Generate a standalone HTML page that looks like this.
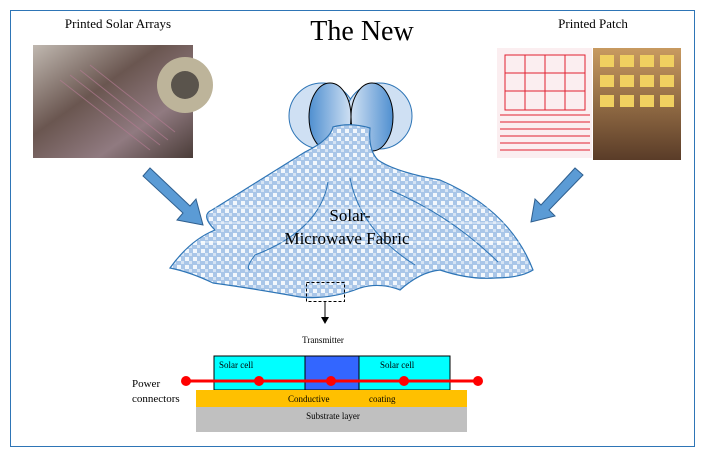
<!DOCTYPE html>
<html><head><meta charset="utf-8"><style>
body{margin:0;background:#fff;}
svg{display:block;}
text{font-family:"Liberation Serif",serif;fill:#000;}
</style></head><body>
<svg width="705" height="458" viewBox="0 0 705 458" xmlns="http://www.w3.org/2000/svg">
<defs>
<pattern id="chk" width="8" height="8" patternUnits="userSpaceOnUse">
<rect width="8" height="8" fill="#a9c6e8"/>
<rect x="1" y="1" width="4" height="4" fill="#f2f7fc"/>
<rect x="5" y="5" width="3" height="3" fill="#d6e4f4"/>
</pattern>
<linearGradient id="bl" x1="0" x2="1"><stop offset="0" stop-color="#4f8fd0"/><stop offset="1" stop-color="#cfe0f3"/></linearGradient>
<linearGradient id="br" x1="1" x2="0"><stop offset="0" stop-color="#4f8fd0"/><stop offset="1" stop-color="#cfe0f3"/></linearGradient>
<linearGradient id="ph1" x1="0" y1="0" x2="1" y2="1"><stop offset="0" stop-color="#c0b8b0"/><stop offset="0.4" stop-color="#6a5650"/><stop offset="0.7" stop-color="#907a80"/><stop offset="1" stop-color="#4a3c38"/></linearGradient>
<linearGradient id="ph2" x1="0" y1="0" x2="0" y2="1"><stop offset="0" stop-color="#c89a60"/><stop offset="1" stop-color="#5a3c28"/></linearGradient>
</defs>
<rect x="10.5" y="10.5" width="684" height="436" fill="#fff" stroke="#2e75b6" stroke-width="1"/>
<text x="118" y="28" font-size="13" text-anchor="middle">Printed Solar Arrays</text>
<text x="362" y="40" font-size="28" text-anchor="middle">The New</text>
<text x="593" y="28" font-size="13" text-anchor="middle">Printed Patch</text>
<rect x="33" y="45" width="160" height="113" fill="url(#ph1)"/>
<circle cx="185" cy="85" r="28" fill="#bdb49a"/><circle cx="185" cy="85" r="14" fill="#5a544c"/>
<g stroke="#b07a90" stroke-width="1" opacity="0.7">
<line x1="60" y1="80" x2="150" y2="150"/><line x1="70" y1="75" x2="160" y2="145"/><line x1="80" y1="70" x2="168" y2="140"/><line x1="90" y1="65" x2="175" y2="132"/></g>
<rect x="497" y="48" width="95" height="110" fill="#fbeef0"/>
<g stroke="#e02030" stroke-width="1" fill="none">
<rect x="505" y="55" width="80" height="55"/><line x1="525" y1="55" x2="525" y2="110"/><line x1="545" y1="55" x2="545" y2="110"/><line x1="565" y1="55" x2="565" y2="110"/>
<line x1="505" y1="73" x2="585" y2="73"/><line x1="505" y1="91" x2="585" y2="91"/>
<path d="M500 115 H590 M500 122 H590 M500 129 H590 M500 136 H590 M500 143 H590 M500 150 H590"/></g>
<rect x="593" y="48" width="88" height="112" fill="url(#ph2)"/>
<g fill="#f0d060"><rect x="600" y="55" width="14" height="12"/><rect x="620" y="55" width="14" height="12"/><rect x="640" y="55" width="14" height="12"/><rect x="660" y="55" width="14" height="12"/>
<rect x="600" y="75" width="14" height="12"/><rect x="620" y="75" width="14" height="12"/><rect x="640" y="75" width="14" height="12"/><rect x="660" y="75" width="14" height="12"/>
<rect x="600" y="95" width="14" height="12"/><rect x="620" y="95" width="14" height="12"/><rect x="640" y="95" width="14" height="12"/><rect x="660" y="95" width="14" height="12"/></g>
<path d="M150 168 L190 206 L196 199 L203 225 L177 220 L183 213 L143 176 Z" fill="#5b9bd5" stroke="#2f5f8f" stroke-width="1"/>
<path d="M575 168 L541 205 L535 199 L531 222 L555 216 L549 210 L583 175 Z" fill="#5b9bd5" stroke="#2f5f8f" stroke-width="1"/>
<circle cx="322" cy="116" r="33" fill="#cfe0f3" stroke="#2e75b6"/>
<circle cx="379" cy="116" r="33" fill="#cfe0f3" stroke="#2e75b6"/>
<ellipse cx="330" cy="117" rx="21" ry="34" fill="url(#bl)" stroke="#000"/>
<ellipse cx="372" cy="117" rx="21" ry="34" fill="url(#br)" stroke="#000"/>
<path d="M333 127 Q350 122 370 128 Q368 150 378 160 Q395 172 440 180 Q510 210 533 270 Q520 278 495 278 Q470 280 440 270 Q420 272 400 290 Q380 282 360 288 Q330 300 300 297 Q250 288 213 283 Q190 272 170 268 Q190 240 215 230 Q200 215 212 210 Q260 180 305 152 Q330 140 333 127 Z" fill="url(#chk)" stroke="#2e75b6" stroke-width="1.2"/>
<g fill="none" stroke="#2e75b6" stroke-width="1">
<path d="M328 182 Q320 230 255 255 Q245 268 250 270"/>
<path d="M350 178 Q360 230 415 265"/>
<path d="M390 190 Q450 215 498 262"/>
</g>
<g stroke="#fff" stroke-width="1" opacity="0.7"><line x1="215" y1="208" x2="505" y2="208"/><line x1="215" y1="223" x2="515" y2="223"/><line x1="200" y1="242" x2="525" y2="242"/></g>
<text x="350" y="221" font-size="17" text-anchor="middle">Solar-</text>
<text x="347" y="244" font-size="17" text-anchor="middle">Microwave Fabric</text>
<rect x="306.5" y="282.5" width="38" height="19" fill="none" stroke="#000" stroke-dasharray="3,2"/>
<line x1="325" y1="302" x2="325" y2="318" stroke="#000"/>
<path d="M321 317 L325 324 L329 317 Z" fill="#000"/>
<text x="323" y="343" font-size="9" text-anchor="middle">Transmitter</text>
<rect x="214" y="356" width="91" height="34" fill="#00ffff" stroke="#000"/>
<rect x="305" y="356" width="54" height="34" fill="#3366ff" stroke="#000"/>
<rect x="359" y="356" width="91" height="34" fill="#00ffff" stroke="#000"/>
<text x="219" y="368" font-size="9">Solar cell</text>
<text x="380" y="368" font-size="9">Solar cell</text>
<rect x="196" y="390" width="271" height="17" fill="#ffc000"/>
<rect x="196" y="407" width="271" height="25" fill="#c0c0c0"/>
<text x="288" y="402" font-size="9">Conductive</text>
<text x="369" y="402" font-size="9">coating</text>
<text x="333" y="419" font-size="9" text-anchor="middle">Substrate layer</text>
<line x1="186" y1="381" x2="478" y2="381" stroke="#ff0000" stroke-width="3"/>
<g fill="#ff0000"><circle cx="186" cy="381" r="5"/><circle cx="259" cy="381" r="5"/><circle cx="331" cy="381" r="5"/><circle cx="404" cy="381" r="5"/><circle cx="478" cy="381" r="5"/></g>
<text x="132" y="387" font-size="11">Power</text>
<text x="132" y="402" font-size="11">connectors</text>
</svg>
</body></html>
